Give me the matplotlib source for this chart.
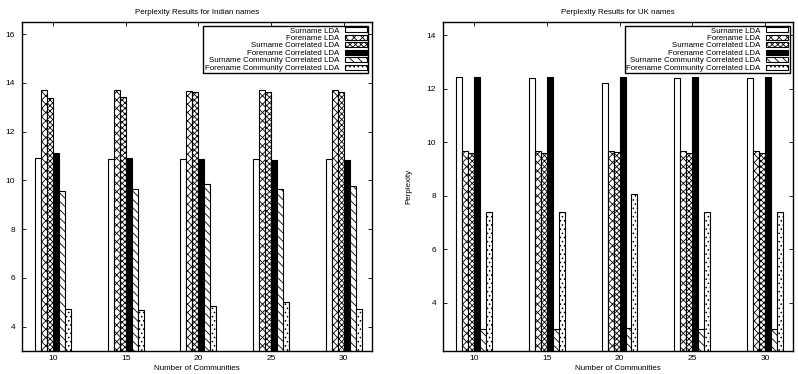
import numpy as np
import matplotlib
matplotlib.use("Agg")
import matplotlib.pyplot as plt

plt.rcParams['font.family'] = ['Liberation Sans', 'DejaVu Sans']
plt.rcParams['hatch.linewidth'] = 0.6

# --- Daten ---
communities = [10, 15, 20, 25, 30]
series_names = ["Surname LDA", "Forename LDA", "Surname Correlated LDA",
                "Forename Correlated LDA", "Surname Community Correlated LDA",
                "Forename Community Correlated LDA"]

indian_surname_lda = [10.91, 10.87, 10.87, 10.90, 10.87]
indian_forename_lda = [13.70, 13.70, 13.67, 13.70, 13.70]
indian_surname_corr = [13.40, 13.41, 13.64, 13.64, 13.64]
indian_forename_corr = [11.12, 10.93, 10.87, 10.84, 10.84]
indian_surname_comm = [9.57, 9.64, 9.85, 9.64, 9.78]
indian_forename_comm = [4.72, 4.68, 4.83, 5.02, 4.72]

uk_surname_lda = [12.43, 12.41, 12.22, 12.41, 12.41]
uk_forename_lda = [9.66, 9.66, 9.66, 9.66, 9.66]
uk_surname_corr = [9.62, 9.62, 9.63, 9.62, 9.62]
uk_forename_corr = [12.46, 12.43, 12.43, 12.43, 12.43]
uk_surname_comm = [3.03, 3.03, 3.05, 3.03, 3.03]
uk_forename_comm = [7.41, 7.41, 8.07, 7.41, 7.41]

indian = [indian_surname_lda, indian_forename_lda, indian_surname_corr,
          indian_forename_corr, indian_surname_comm, indian_forename_comm]
uk = [uk_surname_lda, uk_forename_lda, uk_surname_corr,
      uk_forename_corr, uk_surname_comm, uk_forename_comm]

# Stil je Serie (Gnuplot-artige Füllmuster)
faces = ['white', 'white', 'white', 'black', 'white', 'white']
hatches = [None, 'xxxx', 'xxxxxx', None, '\\\\\\\\', '....']

fig = plt.figure(figsize=(7.98, 3.74), dpi=100)
ax1 = fig.add_axes([0.0276, 0.0615, 0.4385, 0.8795])
ax2 = fig.add_axes([0.555, 0.0615, 0.439, 0.8795])

width = 0.0825
idx = np.arange(len(communities))


def draw_panel(ax, data, title, ylim, yticks):
    for i, vals in enumerate(data):
        pos = idx + (i - 2.5) * width
        ax.bar(pos, np.array(vals) - ylim[0], width, bottom=ylim[0],
               facecolor=faces[i], edgecolor='black', hatch=hatches[i],
               linewidth=0.8, label=series_names[i])
    ax.set_xlim(-0.43, 4.39)
    ax.set_ylim(*ylim)
    ax.set_xticks(idx)
    ax.set_xticklabels([str(c) for c in communities])
    ax.set_yticks(yticks)
    ax.tick_params(direction='in', length=3, width=0.6, labelsize=6,
                   top=True, right=True)
    ax.tick_params(axis='x', pad=3)
    ax.tick_params(axis='y', pad=5)
    for s in ax.spines.values():
        s.set_linewidth(1.0)
    ax.set_title(title, fontsize=5.7, pad=6)
    ax.set_xlabel("Number of Communities", fontsize=5.8, labelpad=2)
    leg = ax.legend(loc='upper right', fontsize=5.7, markerfirst=False,
                    handlelength=2.8, handleheight=0.6, labelspacing=0.02,
                    borderpad=0.2, borderaxespad=0.45, handletextpad=0.7,
                    fancybox=False, framealpha=1.0, edgecolor='black')
    leg.get_frame().set_linewidth(1.0)


draw_panel(ax1, indian, "Perplexity Results for Indian names", (3, 16.5), [4, 6, 8, 10, 12, 14, 16])
draw_panel(ax2, uk, "Perplexity Results for UK names", (2.2, 14.5), [4, 6, 8, 10, 12, 14])
ax2.set_ylabel("Perplexity", fontsize=5.8, labelpad=10)

fig.savefig("out.png", dpi=100)
